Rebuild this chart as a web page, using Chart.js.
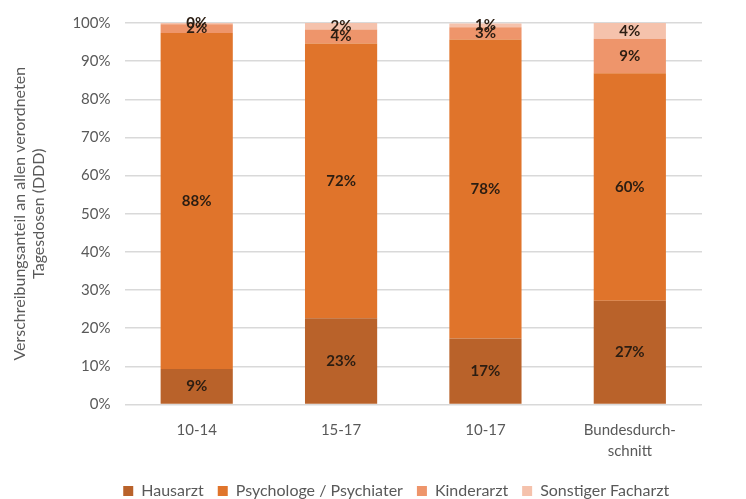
<!DOCTYPE html>
<html>
<head>
<meta charset="utf-8">
<script src="https://cdn.jsdelivr.net/npm/chart.js@4/dist/chart.umd.min.js"></script>
<style>
  html, body { margin: 0; padding: 0; background: #fff; }
  #wrap { width: 746px; height: 499px; }
</style>
</head>
<body>
<div id="wrap"><canvas id="myChart" width="746" height="499"></canvas></div>
<script>
var categories = [['10-14'], ['15-17'], ['10-17'], ['Bundesdurch-', 'schnitt']];
var hausarzt = [9.3, 22.6, 17.3, 27.2];
var psychologe = [88.1, 72.0, 78.4, 59.6];
var kinderarzt = [2.3, 3.7, 3.2, 9.1];
var sonstiger = [0.3, 1.7, 1.0, 4.1];
var yTicks = [0, 10, 20, 30, 40, 50, 60, 70, 80, 90, 100];

var fontFamily = 'Lato, "Liberation Sans", sans-serif';

// draws the percentage inside every segment (no datalabels plugin available offline)
var segmentLabels = {
	id: 'segmentLabels',
	afterDatasetsDraw: function(chart){
		var ctx = chart.ctx;
		ctx.save();
		ctx.font = 'bold 15px ' + fontFamily;
		ctx.fillStyle = '#2b1d12';
		ctx.textAlign = 'center';
		ctx.textBaseline = 'middle';
		chart.data.datasets.forEach(function(ds, i){
			var meta = chart.getDatasetMeta(i);
			meta.data.forEach(function(bar, j){
				var mid = (bar.y + bar.base) / 2;
				ctx.fillText(Math.round(ds.data[j]) + '%', bar.x, mid);
			});
		});
		ctx.restore();
	}
};

// legend in the original sits centred under the plot, not the whole canvas
var legendShift = {
	id: 'legendShift',
	afterLayout: function(chart){
		var dx = (chart.chartArea.left + chart.chartArea.right) / 2 - chart.width / 2;
		chart.legend.left += dx;
		chart.legend.right += dx;
	}
};

var ctx = document.getElementById('myChart').getContext('2d');
var myChart = new Chart(ctx, {
	type: 'bar',
	data: {
		labels: categories,
		datasets: [{
			label: 'Hausarzt',
			data: hausarzt,
			backgroundColor: '#B9622A'
		}, {
			label: 'Psychologe / Psychiater',
			data: psychologe,
			backgroundColor: '#E0742B'
		}, {
			label: 'Kinderarzt',
			data: kinderarzt,
			backgroundColor: '#EE956B'
		}, {
			label: 'Sonstiger Facharzt',
			data: sonstiger,
			backgroundColor: '#F5C2AC'
		}]
	},
	options: {
		responsive: false,
		animation: false,
		layout: { padding: { top: 0, right: 44, bottom: -10, left: 10 } },
		datasets: { bar: { categoryPercentage: 1.0, barPercentage: 0.5 } },
		plugins: {
			legend: {
				position: 'bottom',
				labels: {
					boxWidth: 10,
					boxHeight: 10,
					padding: 14,
					color: '#595959',
					font: { family: fontFamily, size: 16 }
				}
			},
			tooltip: { enabled: false }
		},
		scales: {
			x: {
				stacked: true,
				grid: { display: false },
				border: { display: false },
				ticks: { color: '#595959', font: { family: fontFamily, size: 15, lineHeight: 1.35 }, padding: 8 }
			},
			y: {
				stacked: true,
				min: 0,
				max: 100,
				afterBuildTicks: function(axis){
					axis.ticks = yTicks.map(function(v){ return { value: v }; });
				},
				grid: { color: '#d9d9d9', lineWidth: 1.5, drawTicks: false },
				border: { display: false },
				ticks: {
					color: '#595959',
					font: { family: fontFamily, size: 15 },
					padding: 14,
					callback: function(v){ return v + '%'; }
				},
				title: {
					display: true,
					text: ['Verschreibungsanteil an allen verordneten', 'Tagesdosen (DDD)'],
					color: '#595959',
					font: { family: fontFamily, size: 16, lineHeight: 1.2 },
					padding: { top: 0, bottom: 10 }
				}
			}
		}
	},
	plugins: [segmentLabels, legendShift]
});
</script>
</body>
</html>
